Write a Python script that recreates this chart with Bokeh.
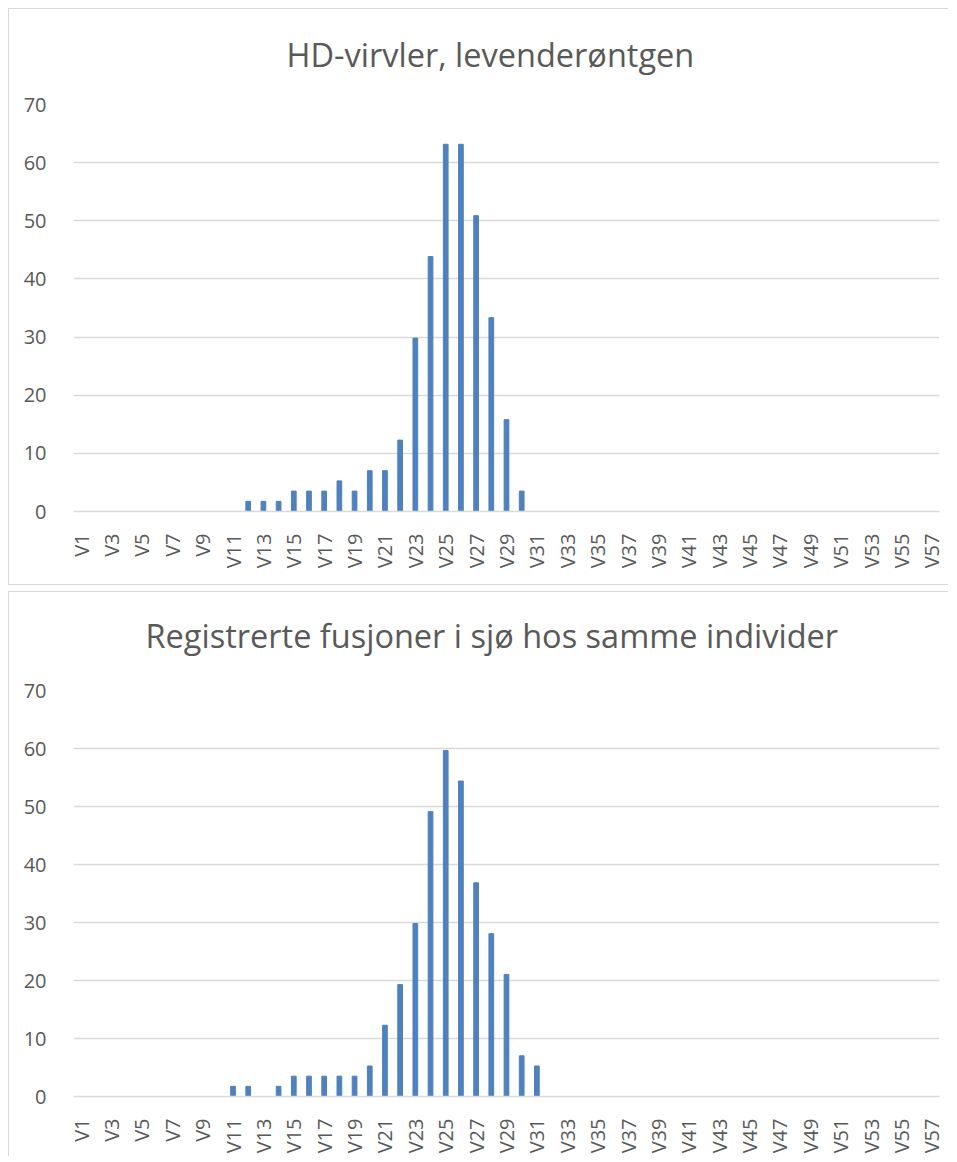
from bokeh.plotting import figure
from bokeh.layouts import column
from bokeh.models import FixedTicker, Range1d, Title
from bokeh.embed import file_html
from bokeh.resources import INLINE

# ---- data ----
categories = ["V%d" % i for i in range(1, 58)]
positions = list(range(1, 58))

title_top = "HD-virvler, levenderøntgen"
values_top = [0, 0, 0, 0, 0, 0, 0, 0, 0, 0,          # V1-V10
              0, 1.75, 1.75, 1.75, 3.51, 3.51, 3.51, 5.26, 3.51, 7.02,   # V11-V20
              7.02, 12.28, 29.82, 43.86, 63.16, 63.16, 50.88, 33.33, 15.79, 3.51,  # V21-V30
              0, 0, 0, 0, 0, 0, 0, 0, 0, 0,          # V31-V40
              0, 0, 0, 0, 0, 0, 0, 0, 0, 0,          # V41-V50
              0, 0, 0, 0, 0, 0, 0]                   # V51-V57

title_bottom = "Registrerte fusjoner i sjø hos samme individer"
values_bottom = [0, 0, 0, 0, 0, 0, 0, 0, 0, 0,
                 1.75, 1.75, 0, 1.75, 3.51, 3.51, 3.51, 3.51, 3.51, 5.26,
                 12.28, 19.30, 29.82, 49.12, 59.65, 54.39, 36.84, 28.07, 21.05, 7.02,
                 5.26, 0, 0, 0, 0, 0, 0, 0, 0, 0,
                 0, 0, 0, 0, 0, 0, 0, 0, 0, 0,
                 0, 0, 0, 0, 0, 0, 0]

y_ticks = [0, 10, 20, 30, 40, 50, 60, 70]

BAR = "#4F81BD"
GRID = "#D9D9D9"
TEXT = "#595959"
FONT = "Open Sans"


def make_chart(title, values, height, border_css, b_left, b_right, b_top, b_bottom,
               gap, title_offset):
    p = figure(width=940, height=height, output_backend="svg", toolbar_location=None,
               x_range=Range1d(0.5, 57.5), y_range=Range1d(0, 70),
               min_border_left=b_left, min_border_right=b_right,
               min_border_top=b_top, min_border_bottom=b_bottom,
               styles=border_css)
    p.vbar(x=positions, top=values, width=0.31, color=BAR)
    # empty spacer panel between the title and the plot frame
    p.add_layout(Title(text=" ", text_font_size="1px", standoff=gap), "above")
    p.title.text = title
    p.title.align = "left"
    p.title.offset = title_offset
    p.title.text_font = FONT
    p.title.text_font_size = "32.5px"
    p.title.text_font_style = "normal"
    p.title.text_color = TEXT
    p.title.standoff = 10
    p.outline_line_color = None

    p.xaxis.ticker = FixedTicker(ticks=positions[::2])
    p.xaxis.major_label_overrides = {pos: cat for pos, cat in zip(positions, categories)}
    p.xaxis.major_label_orientation = 1.5707963267948966
    p.xaxis.major_tick_line_color = None
    p.xaxis.minor_tick_line_color = None
    p.xaxis.axis_line_color = GRID
    p.xaxis.axis_line_width = 1.5
    p.xaxis.major_label_standoff = 16
    p.xaxis.major_label_text_font = FONT
    p.xaxis.major_label_text_font_size = "20px"
    p.xaxis.major_label_text_color = TEXT
    p.xgrid.grid_line_color = None

    p.yaxis.ticker = FixedTicker(ticks=y_ticks)
    p.yaxis.axis_line_color = None
    p.yaxis.major_tick_line_color = None
    p.yaxis.minor_tick_line_color = None
    p.yaxis.major_label_standoff = 21
    p.yaxis.major_label_text_font = FONT
    p.yaxis.major_label_text_font_size = "20px"
    p.yaxis.major_label_text_color = TEXT
    p.ygrid.ticker = FixedTicker(ticks=y_ticks)
    p.ygrid.grid_line_color = GRID
    p.ygrid.grid_line_width = 1.5
    return p


p1 = make_chart(title_top, values_top, 577,
                {"border-left": "1.5px solid #D9D9D9", "border-top": "1.5px solid #D9D9D9",
                 "border-bottom": "1.5px solid #D9D9D9"},
                62, 10, 95, 75, 20, 213)
p2 = make_chart(title_bottom, values_bottom, 565,
                {"border-left": "1.5px solid #D9D9D9", "border-top": "1.5px solid #D9D9D9"},
                64, 9, 98, 61, 25, 72)

layout = column(p1, p2, spacing=6, margin=(8, 0, 0, 8))
open("out.html", "w").write(file_html(layout, INLINE))
